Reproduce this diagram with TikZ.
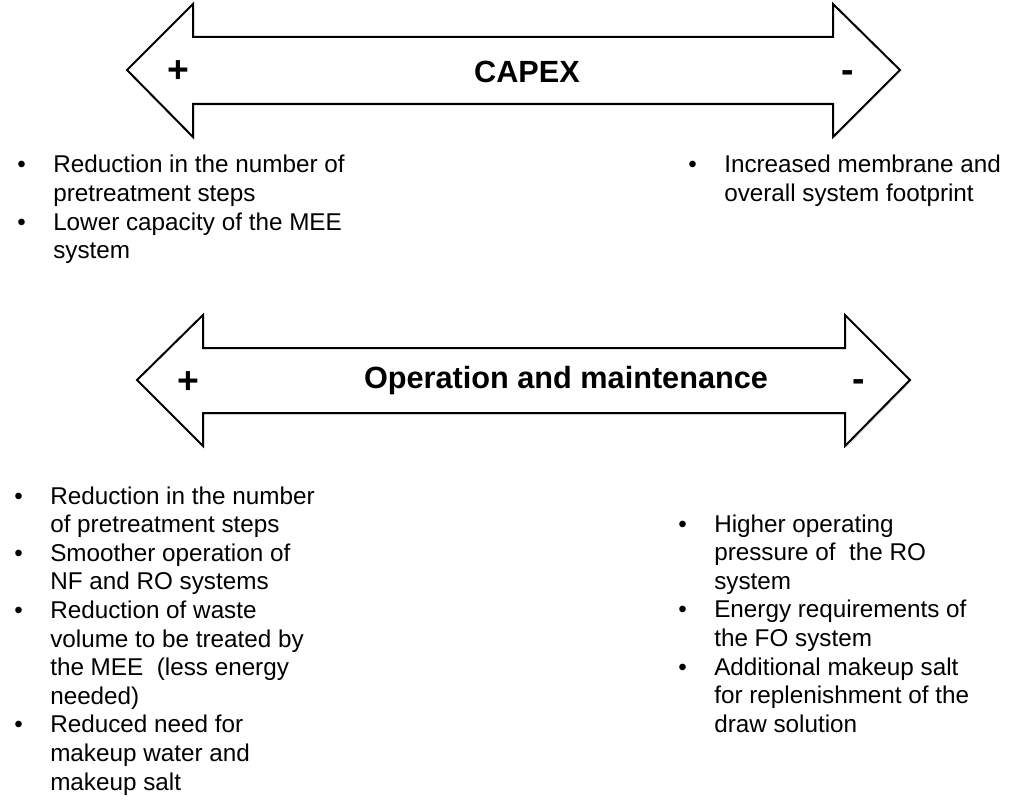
\documentclass[tikz,border=0pt]{standalone}
\usepackage{fontspec}
\setmainfont{Liberation Sans}
\usepackage{tikz}
\usetikzlibrary{positioning,shadows}

\begin{document}
\begin{tikzpicture}[
            x=0.75pt, y=-0.75pt,
            bigarrow/.style={draw, line width=1.5pt, fill=white, line join=miter,
                drop shadow={shadow xshift=1pt, shadow yshift=-1.5pt, opacity=0.18}},
            title/.style={font=\fontsize{23}{27}\selectfont\bfseries, inner sep=0pt, anchor=base},
            sign/.style={font=\fontsize{28}{32}\selectfont\bfseries, inner sep=0pt, anchor=base},
            list/.style={font=\fontsize{18.2}{21.45}\selectfont, inner sep=0pt, anchor=base west}
        ]
        \useasboundingbox (0,0) rectangle (1024,809);
        % capex arrow
        \draw[bigarrow] (127,70) -- (193,4) -- (193,37) -- (833,37) -- (833,4) -- (900,70)
            -- (833,137) -- (833,104) -- (193,104) -- (193,137) -- cycle;
        \node[title] (capex) at (527,83) {CAPEX};
        \node[sign] (capexpos) at (178,83) {+};
        \node[sign] (capexneg) at (848,83) {-};
        % operation and maintenance arrow
        \draw[bigarrow] (137,380) -- (203,315) -- (203,348) -- (845,348) -- (845,315) -- (910,380)
            -- (845,446) -- (845,413) -- (203,413) -- (203,446) -- cycle;
        \node[title] (om) at (566,388) {Operation and maintenance};
        \node[sign] (ompos) at (188.5,393) {+};
        \node[sign] (omneg) at (859,391) {-};
        % lists
        \node[list] (capexgood) at (17,173) {\begin{tabular}[t]{@{}p{27pt}@{}l@{}}
            \textbullet & Reduction in the number of\\
             & pretreatment steps\\
            \textbullet & Lower capacity of the MEE\\
             & system
            \end{tabular}};
        \node[list] (capexbad) at (688,173) {\begin{tabular}[t]{@{}p{27pt}@{}l@{}}
            \textbullet & Increased membrane and\\
             & overall system footprint
            \end{tabular}};
        \node[list] (omgood) at (14,504) {\begin{tabular}[t]{@{}p{27pt}@{}l@{}}
            \textbullet & Reduction in the number\\
             & of pretreatment steps\\
            \textbullet & Smoother operation of\\
             & NF and RO systems\\
            \textbullet & Reduction of waste\\
             & volume to be treated by\\
             & the MEE\ \ (less energy\\
             & needed)\\
            \textbullet & Reduced need for\\
             & makeup water and\\
             & makeup salt
            \end{tabular}};
        \node[list] (ombad) at (678,532) {\begin{tabular}[t]{@{}p{27pt}@{}l@{}}
            \textbullet & Higher operating\\
             & pressure of\ \ the RO\\
             & system\\
            \textbullet & Energy requirements of\\
             & the FO system\\
            \textbullet & Additional makeup salt\\
             & for replenishment of the\\
             & draw solution
            \end{tabular}};
\end{tikzpicture}
\end{document}
